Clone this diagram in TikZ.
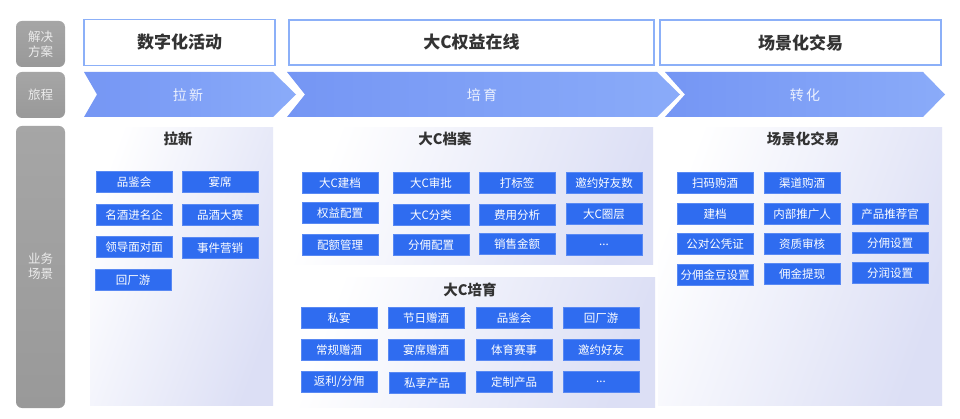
\documentclass[tikz,border=0pt]{standalone}
\usepackage{fontspec}
\setmainfont{Noto Sans CJK SC}
\begin{document}
\begin{tikzpicture}[x=1pt,y=-1pt,
  every node/.style={inner sep=0pt,outer sep=0pt},
  sidebox/.style={rounded corners=6pt,top color=gray!70,bottom color=gray!80,draw=none},
  sidetext/.style={text=white!85!gray,font=\fontsize{12.5}{15}\selectfont,align=center},
  headbox/.style={draw=headline,line width=1.1pt,fill=white},
  headtext/.style={text=darktxt,font=\fontsize{17}{20}\selectfont\bfseries},
  chev/.style={left color=chevA,right color=chevB,draw=none},
  chevtext/.style={text=white,opacity=0.85,font=\fontsize{14}{16}\selectfont},
  panel/.style={left color=white,right color=lav,draw=none,shading angle=70},
  ptitle/.style={text=darktxt,font=\fontsize{14.5}{17}\selectfont\bfseries},
  bbox/.style={fill=boxblue,draw=boxblue!80!white,minimum width=76pt,minimum height=21pt,text=white,font=\fontsize{11.5}{13}\selectfont}
]
\definecolor{headline}{HTML}{8CB0F8}
\definecolor{darktxt}{HTML}{333333}
\definecolor{chevA}{HTML}{7596F4}
\definecolor{chevB}{HTML}{8AABF9}
\definecolor{lav}{HTML}{DCDFF5}
\definecolor{boxblue}{HTML}{2F6CF0}
\useasboundingbox (0,0) rectangle (960,419);
\fill[white] (0,0) rectangle (960,419);

% left column
\path[sidebox] (16,21) rectangle (65,67);
\node[sidetext] (s1) at (40.5,44) {解决\\方案};
\path[sidebox] (16,72) rectangle (65,118);
\node[sidetext] (s2) at (40.5,95) {旅程};
\path[sidebox] (16,126) rectangle (65,408);
\node[sidetext] (s3) at (40.5,266) {业务\\场景};

% headers
\node[headbox,minimum width=191pt,minimum height=46pt] (h1) at (179.5,42.5) {};
\node[headtext] (h1t) at (h1) {数字化活动};
\node[headbox,minimum width=365pt,minimum height=45pt] (h2) at (471.5,42.5) {};
\node[headtext] (h2t) at (h2) {大C权益在线};
\node[headbox,minimum width=281pt,minimum height=45pt] (h3) at (800.5,42.5) {};
\node[headtext] (h3t) at (h3) {场景化交易};

% chevrons
\path[chev] (84,72) -- (273,72) -- (296,94.5) -- (273,117) -- (84,117) -- (97,94.5) -- cycle;
\node[chevtext] (c1) at (188,95) {拉\,新};
\path[chev] (287,72) -- (657,72) -- (680,94.5) -- (657,117) -- (287,117) -- (305,94.5) -- cycle;
\node[chevtext] (c2) at (482,95) {培\,育};
\path[chev] (665,72) -- (923,72) -- (945,94.5) -- (923,117) -- (665,117) -- (685,94.5) -- cycle;
\node[chevtext] (c3) at (805,95) {转\,化};

% panels
\path[panel] (90,128) rectangle (273,405);
\path[panel] (293,128) rectangle (653,265);
\path[panel] (296,278) rectangle (655,407);
\path[panel] (658,128) rectangle (942,405);

% 拉新
\node[ptitle] (t1) at (178,139) {拉新};
\node[bbox] (a1) at (134,182) {品鉴会};
\node[bbox] (a2) at (220,182) {宴席};
\node[bbox] (a3) at (134,215) {名酒进名企};
\node[bbox] (a4) at (220,215) {品酒大赛};
\node[bbox] (a5) at (134,247) {领导面对面};
\node[bbox] (a6) at (220,248) {事件营销};
\node[bbox] (a7) at (133,280) {回厂游};

% 大C档案
\node[ptitle] (t2) at (445,139) {大C档案};
\node[bbox] (b1) at (340,183) {大C建档};
\node[bbox] (b2) at (431,183) {大C审批};
\node[bbox] (b3) at (517,183) {打标签};
\node[bbox] (b4) at (604,183) {邀约好友数};
\node[bbox] (b5) at (340,213) {权益配置};
\node[bbox] (b6) at (431,215) {大C分类};
\node[bbox] (b7) at (517,215) {费用分析};
\node[bbox] (b8) at (604,214) {大C圈层};
\node[bbox] (b9) at (340,245) {配额管理};
\node[bbox] (b10) at (431,245) {分佣配置};
\node[bbox] (b11) at (517,244) {销售金额};
\node[bbox] (b12) at (604,245) {...};

% 大C培育
\node[ptitle] (t3) at (470,290) {大C培育};
\node[bbox] (d1) at (339,318) {私宴};
\node[bbox] (d2) at (426,318) {节日赠酒};
\node[bbox] (d3) at (514,318) {品鉴会};
\node[bbox] (d4) at (601,318) {回厂游};
\node[bbox] (d5) at (339,350) {常规赠酒};
\node[bbox] (d6) at (426,350) {宴席赠酒};
\node[bbox] (d7) at (514,350) {体育赛事};
\node[bbox] (d8) at (601,350) {邀约好友};
\node[bbox] (d9) at (339,382) {返利/分佣};
\node[bbox] (d10) at (427,383) {私享产品};
\node[bbox] (d11) at (514,382) {定制产品};
\node[bbox] (d12) at (601,382) {...};

% 场景化交易
\node[ptitle] (t4) at (803,139) {场景化交易};
\node[bbox] (e1) at (715,183) {扫码购酒};
\node[bbox] (e2) at (802,183) {渠道购酒};
\node[bbox] (e3) at (715,214) {建档};
\node[bbox] (e4) at (802,214) {内部推广人};
\node[bbox] (e5) at (890,214) {产品推荐官};
\node[bbox] (e6) at (715,244) {公对公凭证};
\node[bbox] (e7) at (802,244) {资质审核};
\node[bbox] (e8) at (890,243) {分佣设置};
\node[bbox] (e9) at (715,275) {分佣金豆设置};
\node[bbox] (e10) at (802,274) {佣金提现};
\node[bbox] (e11) at (890,273) {分润设置};
\end{tikzpicture}
\end{document}
